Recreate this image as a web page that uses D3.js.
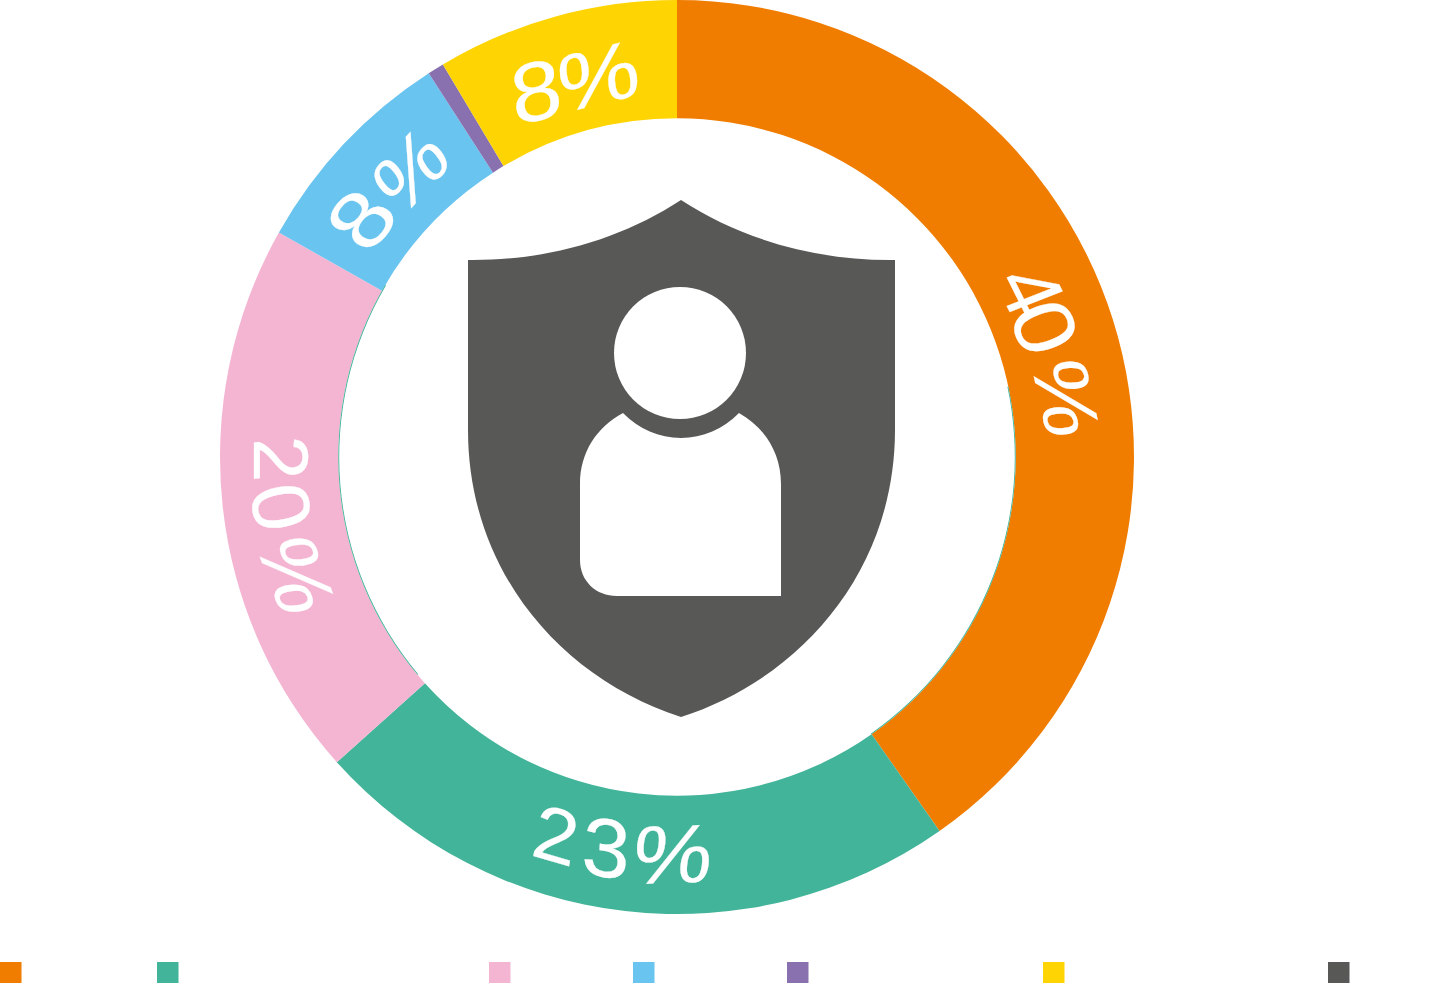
<!DOCTYPE html>
<html><head><meta charset="utf-8">
<script src="https://cdn.jsdelivr.net/npm/d3@7/dist/d3.min.js"></script>
<style>html,body{margin:0;padding:0;background:#fff;overflow:hidden}svg{display:block}</style>
</head><body><svg id="c" width="1443" height="989"></svg>
<script>
const seriesIds = ["a","b","c","d","e","f","g"];
const shares = [40.26,23.1,19.81,7.69,0.58,8.56,0];
const shareLabels = ["40%","23%","20%","8%","","8%",""];
const colors = ["#F07D00","#41B499","#F4B5D3","#6AC4F0","#8971B0","#FFD403","#585856"];
const legendX = [0,157,489,633,787,1043,1328];

const cx=677, cy=457, R=457, r=338.7;
// The printed labels are warped, so each glyph gets its own placement:
// centre x, y, then the picture of one em along the glyph's x axis and up axis.
const glyphPlace = {
 0:[[1031.7,290,36.6,73.4,76.8,-30.3],[1045.7,327,36,85,79.5,-29.7],[1067,398,19.5,88,78,-3.6]],
 1:[[556,834,78,22.8,13.7,-75],[606.3,847,86,12,5,-83],[673,853,89.8,-3,8.7,-82.8]],
 2:[[281.7,458.3,0,79.4,77.6,-6],[282.3,506.7,16,82,80,-16],[297.7,575,31.9,85,82,-11.2]],
 3:[[360.5,219,62,-74,-68.5,-45.6],[410,169,60,-64,-47,-62]],
 5:[[536,90,90,-20,-10,-83],[598.3,75,91.2,-22.1,-8.1,-80.5]]
};
const svg=d3.select("#c");
const g=svg.append("g").attr("transform",`translate(${cx},${cy})`);
const pie=d3.pie().sort(null).value(d=>d)(shares);
const arc=d3.arc().innerRadius(r).outerRadius(R);
g.selectAll("path.s").data(pie).join("path").attr("class","s").attr("d",arc).attr("fill",(d,i)=>colors[i]);

// thin green slivers visible along the inner edge
const sliver=d3.arc().innerRadius(r-0.9).outerRadius(r);
const deg=Math.PI/180;
[[78,145],[230,300.5]].forEach(a=>{
  g.append("path").attr("d",sliver({startAngle:a[0]*deg,endAngle:a[1]*deg})).attr("fill",colors[1]);
});

const glyphs=[];
shareLabels.forEach((t,i)=>{ if(t) Array.from(t).forEach((ch,j)=>glyphs.push({ch,p:glyphPlace[i][j]})); });
svg.selectAll("text.l").data(glyphs).join("text")
 .attr("class","l")
 .attr("font-family","'Liberation Sans',Arial,sans-serif").attr("font-size",100).attr("fill","#fff")
 .attr("stroke","#fff").attr("stroke-width",0.3)
 .attr("text-anchor","middle").attr("y",36)
 .attr("transform",d=>{const p=d.p;return `matrix(${p[2]/100},${p[3]/100},${-p[4]/100},${-p[5]/100},${p[0]},${p[1]})`;})
 .text(d=>d.ch);

// shield
svg.append("path").attr("fill",colors[6]).attr("d",
 "M681,200 C620,240 545,261 468,260 L468,430 C468,570 560,678 681,717 C802,678 895,570 895,430 L895,260 C818,261 742,240 681,200 Z");
svg.append("circle").attr("cx",680).attr("cy",353).attr("r",66).attr("fill","#fff");
svg.append("path").attr("fill","#fff").attr("d",
 "M623,413 C597,427 580,452 580,484 L580,560 C580,581 596,596 617,596 L781,596 L781,484 C781,452 764,427 739,413 C723,429 703,438 681,438 C659,438 639,429 623,413 Z");

// legend
svg.selectAll("rect.k").data(seriesIds).join("rect").attr("class","k")
 .attr("x",(d,i)=>legendX[i]).attr("y",962).attr("width",21.5).attr("height",21)
 .attr("fill",(d,i)=>colors[i]);
</script></body></html>
